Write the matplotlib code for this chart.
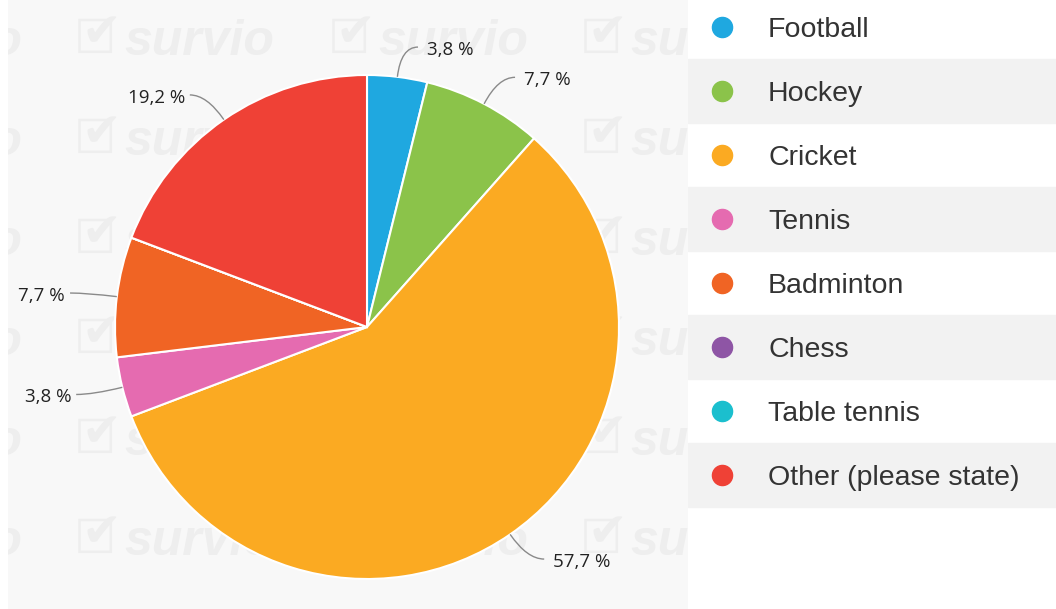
import matplotlib
matplotlib.use("Agg")
import matplotlib.pyplot as plt
import numpy as np
from matplotlib.path import Path
from matplotlib.patches import PathPatch, Rectangle

# data
categories = ["Football", "Hockey", "Cricket", "Tennis", "Badminton",
              "Chess", "Table tennis", "Other (please state)"]
counts = [1, 2, 15, 1, 2, 0, 0, 5]
colors = ["#1fa8e0", "#8bc34a", "#fbaa22", "#e56bb0", "#f06424",
          "#8e55a5", "#1bbfce", "#ef4136"]

W, H = 1056, 609
fig = plt.figure(figsize=(W / 100, H / 100), dpi=100)
fig.patch.set_facecolor("white")

# grey panel behind the pie, with the faint watermark
panel = fig.add_axes([8 / W, 0, (688 - 8) / W, 1])
panel.set_xlim(8, 688)
panel.set_ylim(H, 0)
panel.set_facecolor("#f8f8f8")
panel.axis("off")
panel.add_patch(Rectangle((8, 0), 680, H, color="#f8f8f8", zorder=0))
for row_y in range(40, 600, 100):
    for col_x in [-178, 74, 328, 580]:
        panel.text(col_x, row_y, "\u2610", fontsize=34, color="#eeeeee",
                   family="DejaVu Sans", va="center", ha="left", clip_on=True)
        panel.text(col_x + 8, row_y - 6, "\u2714", fontsize=34, color="#eeeeee",
                   family="DejaVu Sans", va="center", ha="left", clip_on=True)
        panel.text(col_x + 50, row_y + 2, "survio", fontsize=36, color="#eeeeee",
                   family="Liberation Sans", weight="bold", style="italic",
                   va="center", ha="left", clip_on=True)

# pie
R = 252.0
cx, cy = 367.0, H - 327.0
lim = 1.2
side_px = 2 * lim * R
ax = fig.add_axes([(cx - side_px / 2) / W, (cy - side_px / 2) / H,
                   side_px / W, side_px / H])

total = sum(counts)
wedges, _ = ax.pie(counts, colors=colors, startangle=90, counterclock=False,
                   radius=1.0, wedgeprops=dict(edgecolor="white", linewidth=1.5))
ax.set_xlim(-lim, lim)
ax.set_ylim(-lim, lim)
ax.axis("off")

# data labels with soft connectors
out = 30 / R
hor = 17 / R
for w, c in zip(wedges, counts):
    if c == 0:
        continue
    ang = np.deg2rad((w.theta1 + w.theta2) / 2)
    ux, uy = np.cos(ang), np.sin(ang)
    side = 1 if ux >= 0 else -1
    pad = (9 if side > 0 else 5) / R
    a = (ux, uy)
    b = (ux * (1 + out), uy * (1 + out))
    e = (b[0] + side * hor, b[1])
    path = Path([a, b, e], [Path.MOVETO, Path.CURVE3, Path.CURVE3])
    ax.add_patch(PathPatch(path, fill=False, edgecolor="#8a8a8a", lw=1.0,
                           clip_on=False))
    pct = f"{100 * c / total:.1f}".replace(".", ",") + " %"
    ax.text(e[0] + side * pad, e[1] - 3 / R, pct, fontsize=13.5, color="#222222",
            family="Open Sans", ha="left" if side > 0 else "right",
            va="center", clip_on=False)

# legend list on the right
leg = fig.add_axes([688 / W, 0, (W - 688) / W, 1])
leg.set_xlim(688, W)
leg.set_ylim(H, 0)
leg.axis("off")
for i, (name, col) in enumerate(zip(categories, colors)):
    yc = 27 + 64 * i
    if i % 2 == 1:
        leg.add_patch(Rectangle((688, yc - 32), W - 688, 64,
                                color="#f2f2f2", zorder=0))
    leg.scatter([722], [yc], s=210, color=col, zorder=2)
    leg.text(768, yc + 10, name, fontsize=20.5, color="#333333",
             family="Liberation Sans", va="baseline", ha="left")

fig.savefig("out.png", dpi=100)
